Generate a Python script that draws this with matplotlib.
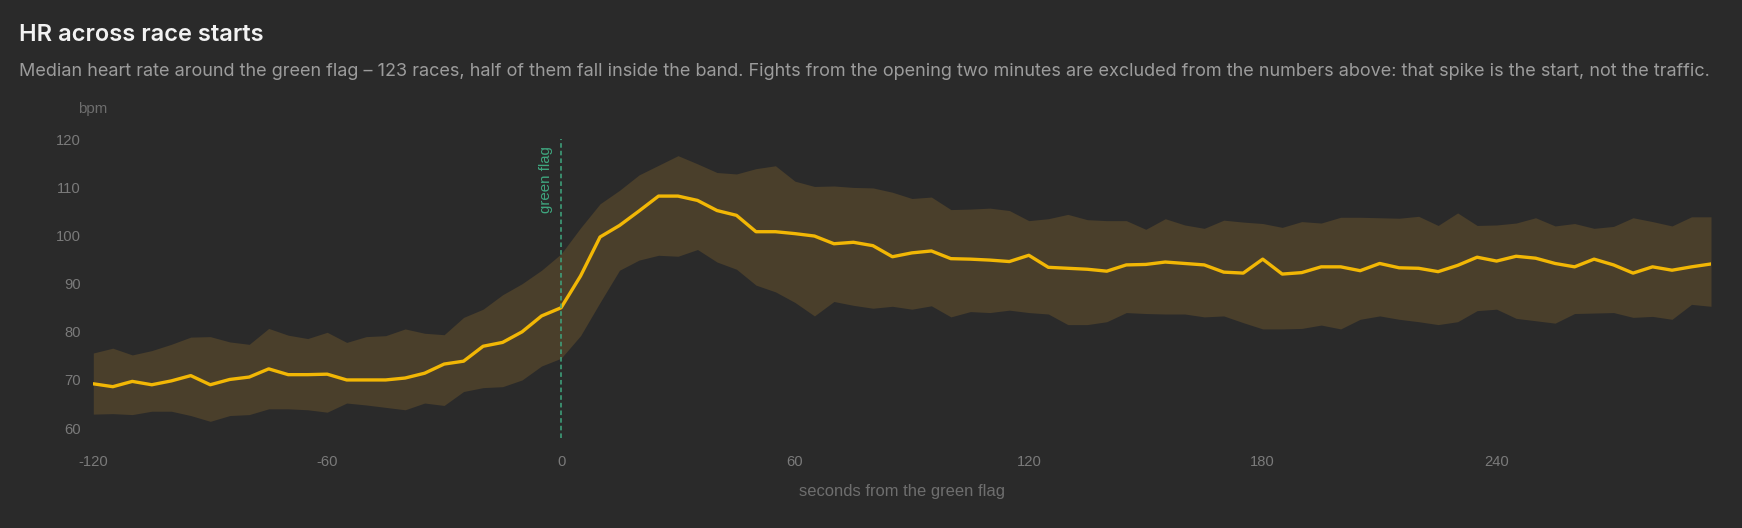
import matplotlib
matplotlib.use("Agg")
import matplotlib.pyplot as plt

# ---- data ----
seconds = list(range(-120, 300, 5))

band_upper = [75.6, 76.6, 75.2, 76.1, 77.4, 78.9, 79.0, 77.9, 77.4, 80.7,
              79.3, 78.6, 79.9, 77.8, 79.0, 79.2, 80.6, 79.7, 79.4, 83.0,
              84.7, 87.7, 90.0, 92.8, 96.2, 101.6, 106.6, 109.4, 112.6, 114.6,
              116.6, 114.9, 113.1, 112.8, 113.9, 114.5, 111.3, 110.2, 110.3, 110.0,
              109.9, 109.0, 107.7, 108.0, 105.4, 105.5, 105.7, 105.2, 103.1, 103.5,
              104.4, 103.3, 103.1, 103.1, 101.3, 103.5, 102.2, 101.5, 103.2, 102.8,
              102.5, 101.7, 102.9, 102.6, 103.8, 103.8, 103.7, 103.6, 104.0, 102.1,
              104.7, 102.1, 102.2, 102.6, 103.7, 102.0, 102.5, 101.5, 101.9, 103.7,
              102.9, 102.0, 103.9, 103.9]

median_hr = [69.2, 68.6, 69.7, 69.0, 69.8, 70.9, 69.0, 70.1, 70.6, 72.3,
             71.1, 71.1, 71.2, 70.0, 70.0, 70.0, 70.4, 71.4, 73.3, 73.9,
             77.0, 77.8, 80.0, 83.3, 85.0, 91.6, 99.7, 102.1, 105.1, 108.2,
             108.2, 107.3, 105.2, 104.2, 100.8, 100.8, 100.4, 99.9, 98.3, 98.6,
             97.9, 95.6, 96.4, 96.8, 95.2, 95.1, 94.9, 94.6, 95.9, 93.4,
             93.2, 93.0, 92.6, 93.9, 94.0, 94.5, 94.2, 93.9, 92.4, 92.2,
             95.1, 92.0, 92.3, 93.5, 93.5, 92.7, 94.2, 93.3, 93.2, 92.5,
             93.8, 95.5, 94.7, 95.7, 95.3, 94.2, 93.5, 95.1, 93.9, 92.2,
             93.5, 92.8, 93.5, 94.1]

band_lower = [62.9, 63.0, 62.8, 63.5, 63.5, 62.6, 61.4, 62.6, 62.8, 64.0,
              64.0, 63.8, 63.3, 65.2, 64.8, 64.3, 63.8, 65.2, 64.7, 67.6,
              68.4, 68.6, 70.0, 72.9, 74.5, 79.2, 86.1, 92.8, 94.9, 95.9,
              95.7, 97.1, 94.5, 93.0, 89.7, 88.3, 86.1, 83.3, 86.3, 85.5,
              84.9, 85.3, 84.7, 85.4, 83.1, 84.2, 84.0, 84.5, 84.0, 83.7,
              81.5, 81.5, 82.1, 84.0, 83.8, 83.7, 83.7, 83.1, 83.3, 81.9,
              80.6, 80.6, 80.7, 81.4, 80.6, 82.6, 83.3, 82.6, 82.1, 81.5,
              82.1, 84.4, 84.7, 82.8, 82.3, 81.8, 83.8, 83.9, 84.0, 83.0,
              83.2, 82.6, 85.7, 85.3]

x_ticks = [-120, -60, 0, 60, 120, 180, 240]
y_ticks = [60, 70, 80, 90, 100, 110, 120]

title = "HR across race starts"
subtitle = ("Median heart rate around the green flag \u2013 123 races, half of them fall inside the band. "
            "Fights from the opening two minutes are excluded from the numbers above: "
            "that spike is the start, not the traffic.")

# ---- style ----
BG = "#2a2a2a"
BAND = "#4a3f2b"
LINE = "#f2b705"
FLAG = "#3fa67f"
TICK = "#7a7a7a"

W, H = 1742, 528
fig = plt.figure(figsize=(W / 100, H / 100), dpi=100, facecolor=BG)

left, right = 93.3 / W, 1711.0 / W
bottom, top = (H - 437.7) / H, (H - 139.3) / H
ax = fig.add_axes([left, bottom, right - left, top - bottom], facecolor=BG)

ax.fill_between(seconds, band_lower, band_upper, color=BAND, linewidth=0)
ax.plot(seconds, median_hr, color=LINE, lw=2.4, solid_joinstyle="round",
        solid_capstyle="round")
ax.axvline(0, color=FLAG, lw=1.1, linestyle=(0, (3, 2)))
ax.annotate("green flag", xy=(0, 120), xycoords="data",
            xytext=(-8, -7), textcoords="offset pixels",
            rotation=90, ha="right", va="top", color=FLAG,
            fontsize=10.8, family="Liberation Sans")

ax.set_xlim(-120, 295)
ax.set_ylim(58, 120)
ax.set_xticks(x_ticks)
ax.set_yticks(y_ticks)
ax.set_xticklabels([str(v) for v in x_ticks])
ax.set_yticklabels([str(v) for v in y_ticks])
for s in ax.spines.values():
    s.set_visible(False)
ax.tick_params(axis="both", length=0, colors=TICK, labelsize=10.6)
ax.tick_params(axis="x", pad=12.5)
ax.tick_params(axis="y", pad=9)
for lab in ax.get_xticklabels() + ax.get_yticklabels():
    lab.set_family("Liberation Sans")

ax.set_xlabel("seconds from the green flag", color="#6e6e6e", fontsize=11.9,
              family="Liberation Sans", labelpad=10.5)

fig.text(19 / W, 1 - 41 / H, title, color="#f2f2f2", fontsize=17,
         fontweight="semibold", family="Inter", va="baseline", ha="left")
fig.text(19 / W, 1 - 75.5 / H, subtitle, color="#9c9c9c", fontsize=13.0,
         family="Inter", va="baseline", ha="left")
fig.text(78.5 / W, 1 - 113 / H, "bpm", color="#6e6e6e", fontsize=10.8,
         family="Liberation Sans", va="baseline", ha="left")

fig.savefig("out.png", dpi=100, facecolor=BG)
